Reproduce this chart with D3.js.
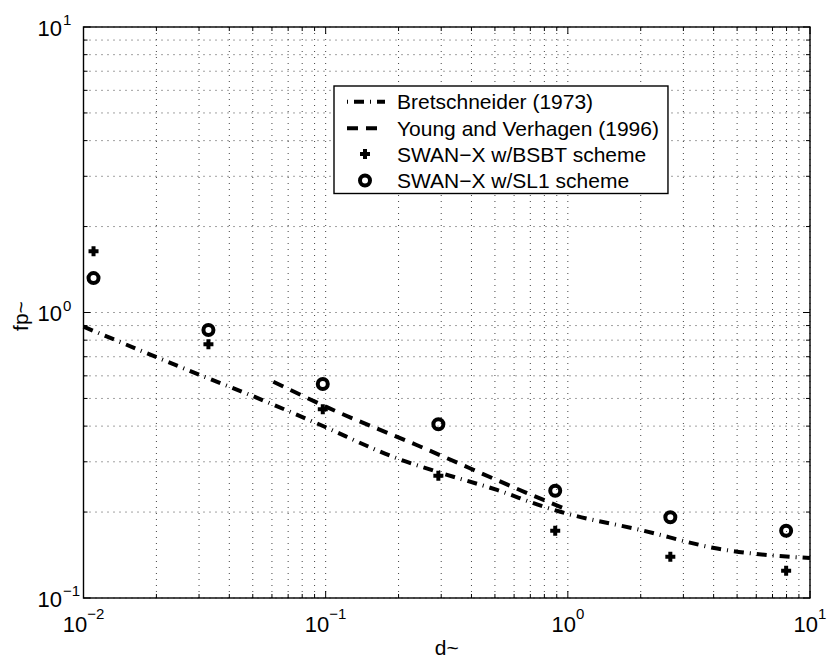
<!DOCTYPE html>
<html>
<head>
<meta charset="utf-8">
<script src="https://cdn.jsdelivr.net/npm/d3@7"></script>
<style>
  body { margin: 0; background: #fff; }
  text { font-family: "Liberation Sans", Arial, Helvetica, sans-serif; fill: #000; }
</style>
</head>
<body>
<div id="chart"></div>
<script>
//set up the data
var dTilde = [0.011, 0.0328, 0.0973, 0.292, 0.887, 2.65, 7.97];
var bsbtFp = [1.64, 0.774, 0.458, 0.268, 0.172, 0.1395, 0.1246];
var sl1Fp = [1.32, 0.868, 0.562, 0.406, 0.2376, 0.1917, 0.172];

var bretX = [0.01, 0.0303, 0.0488, 0.092, 0.197, 0.3, 0.51, 0.794, 0.931, 2.0, 4.14, 10];
var bretY = [0.892, 0.604, 0.514, 0.409, 0.3085, 0.274, 0.239, 0.209, 0.2005, 0.173, 0.149, 0.138];

var youngX = [0.0608, 0.1012, 0.2375, 0.794, 0.98];
var youngY = [0.572, 0.466, 0.3434, 0.2205, 0.205];

var xDecades = [-2, -1, 0, 1];
var yDecades = [-1, 0, 1];

var legendLabels = ["Bretschneider (1973)", "Young and Verhagen (1996)",
    "SWAN\u2212X w/BSBT scheme", "SWAN\u2212X w/SL1 scheme"];

// set up svg dimensions
var svgwidth = 827;
var svgheight = 663;

//set up borders of the axes box
var margin = {left: 83.5, right: 810, top: 27, bottom: 598};

var svg = d3.select("#chart").append("svg")
    .attr("width", svgwidth)
    .attr("height", svgheight);

//set up scales
var xLogScale = d3.scaleLog().domain([0.01, 10]).range([margin.left, margin.right]);
var yLogScale = d3.scaleLog().domain([0.1, 10]).range([margin.bottom, margin.top]);

//minor tick values (2..9 of each decade)
function minorValues(decades) {
    var out = [];
    decades.slice(0, -1).forEach(function(e) {
        for (var k = 2; k <= 9; k++) out.push(k * Math.pow(10, e));
    });
    return out;
}
var xMajor = xDecades.map(e => Math.pow(10, e));
var yMajor = yDecades.map(e => Math.pow(10, e));
var xMinor = minorValues(xDecades);
var yMinor = minorValues(yDecades);

//grid lines, dotted
var grid = svg.append("g")
    .attr("stroke", "#444")
    .attr("stroke-width", 1)
    .attr("stroke-dasharray", "1,5");
grid.selectAll(".gx").data(xMajor.concat(xMinor)).enter().append("line")
    .attr("x1", d => xLogScale(d)).attr("x2", d => xLogScale(d))
    .attr("y1", margin.top).attr("y2", margin.bottom);
grid.selectAll(".gy").data(yMajor.concat(yMinor)).enter().append("line")
    .attr("y1", d => yLogScale(d)).attr("y2", d => yLogScale(d))
    .attr("x1", margin.left).attr("x2", margin.right);

//ticks pointing inward on all four sides
var ticks = svg.append("g").attr("stroke", "#000").attr("stroke-width", 1);
function xTicks(vals, len) {
    vals.forEach(function(v) {
        var x = xLogScale(v);
        ticks.append("line").attr("x1", x).attr("x2", x).attr("y1", margin.bottom).attr("y2", margin.bottom - len);
        ticks.append("line").attr("x1", x).attr("x2", x).attr("y1", margin.top).attr("y2", margin.top + len);
    });
}
function yTicks(vals, len) {
    vals.forEach(function(v) {
        var y = yLogScale(v);
        ticks.append("line").attr("y1", y).attr("y2", y).attr("x1", margin.left).attr("x2", margin.left + len);
        ticks.append("line").attr("y1", y).attr("y2", y).attr("x1", margin.right).attr("x2", margin.right - len);
    });
}
xTicks(xMajor, 7); xTicks(xMinor, 4);
yTicks(yMajor, 7); yTicks(yMinor, 4);

//tick labels as 10 with a superscript exponent
function expText(e) { return e < 0 ? "\u2212" + Math.abs(e) : String(e); }

xDecades.forEach(function(e) {
    var t = svg.append("text")
        .attr("x", xLogScale(Math.pow(10, e)))
        .attr("y", margin.bottom + 34)
        .attr("text-anchor", "middle")
        .style("font-size", "22px");
    t.append("tspan").text("10");
    t.append("tspan").attr("dy", -13).style("font-size", "15px").text(expText(e));
});
yDecades.forEach(function(e) {
    var y = yLogScale(Math.pow(10, e));
    svg.append("text").attr("x", 62).attr("y", y + 8.5)
        .attr("text-anchor", "end").style("font-size", "22px").text("10");
    svg.append("text").attr("x", 63).attr("y", y - 2)
        .style("font-size", "15px").text(expText(e));
});

//axis labels
svg.append("text")
    .attr("x", (margin.left + margin.right) / 2)
    .attr("y", 655)
    .attr("text-anchor", "middle")
    .style("font-size", "21px")
    .text("d~");
svg.append("text")
    .attr("transform", "translate(28," + 316 + ") rotate(-90)")
    .attr("text-anchor", "middle")
    .style("font-size", "21px")
    .text("fp~");

//lines
var line = d3.line()
    .x(d => xLogScale(d[0]))
    .y(d => yLogScale(d[1]))
    .curve(d3.curveMonotoneX);

var bretDash = "10,6,1,6";
var youngDash = "11,8";

svg.append("path")
    .datum(bretX.map((x, i) => [x, bretY[i]]))
    .attr("d", line)
    .attr("fill", "none").attr("stroke", "#000")
    .attr("stroke-width", 4)
    .attr("stroke-dasharray", bretDash);

svg.append("path")
    .datum(youngX.map((x, i) => [x, youngY[i]]))
    .attr("d", line)
    .attr("fill", "none").attr("stroke", "#000")
    .attr("stroke-width", 4)
    .attr("stroke-dasharray", youngDash);

//markers
var plusPath = "M-5,0H5M0,-5V5";
svg.selectAll(".bsbt").data(dTilde).enter().append("path")
    .attr("transform", (d, i) => "translate(" + xLogScale(d) + "," + yLogScale(bsbtFp[i]) + ")")
    .attr("d", plusPath)
    .attr("stroke", "#000").attr("stroke-width", 4).attr("fill", "none");

svg.selectAll(".sl1").data(dTilde).enter().append("circle")
    .attr("cx", d => xLogScale(d))
    .attr("cy", (d, i) => yLogScale(sl1Fp[i]))
    .attr("r", 5)
    .attr("stroke", "#000").attr("stroke-width", 4).attr("fill", "none");

//axes frame
svg.append("rect")
    .attr("x", margin.left).attr("y", margin.top)
    .attr("width", margin.right - margin.left)
    .attr("height", margin.bottom - margin.top)
    .attr("fill", "none").attr("stroke", "#000").attr("stroke-width", 1.4);

//legend
var legendGroup = svg.append("g");
var legendBox = legendGroup.append("rect")
    .attr("fill", "#fff").attr("stroke", "#000").attr("stroke-width", 1.4);
var legendRowY = [101.7, 128.3, 154, 180.5];
var legendFont = 21;
var maxLen = 0;
legendLabels.forEach(function(lbl, i) {
    var t = legendGroup.append("text")
        .attr("x", 397)
        .attr("y", legendRowY[i] + legendFont * 0.36)
        .style("font-size", legendFont + "px")
        .text(lbl);
    maxLen = Math.max(maxLen, t.node().getComputedTextLength());
});
legendGroup.append("line")
    .attr("x1", 347).attr("x2", 385)
    .attr("y1", legendRowY[0]).attr("y2", legendRowY[0])
    .attr("stroke", "#000").attr("stroke-width", 4)
    .attr("stroke-dasharray", "1,6,10,6");
legendGroup.append("line")
    .attr("x1", 347).attr("x2", 385)
    .attr("y1", legendRowY[1]).attr("y2", legendRowY[1])
    .attr("stroke", "#000").attr("stroke-width", 4)
    .attr("stroke-dasharray", youngDash);
legendGroup.append("path")
    .attr("transform", "translate(365," + legendRowY[2] + ")")
    .attr("d", plusPath)
    .attr("stroke", "#000").attr("stroke-width", 4);
legendGroup.append("circle")
    .attr("cx", 365).attr("cy", legendRowY[3]).attr("r", 5)
    .attr("stroke", "#000").attr("stroke-width", 4).attr("fill", "none");
legendBox
    .attr("x", 334).attr("y", 86)
    .attr("width", 397 + maxLen + 9 - 334)
    .attr("height", 193.5 - 86);
</script>
</body>
</html>
